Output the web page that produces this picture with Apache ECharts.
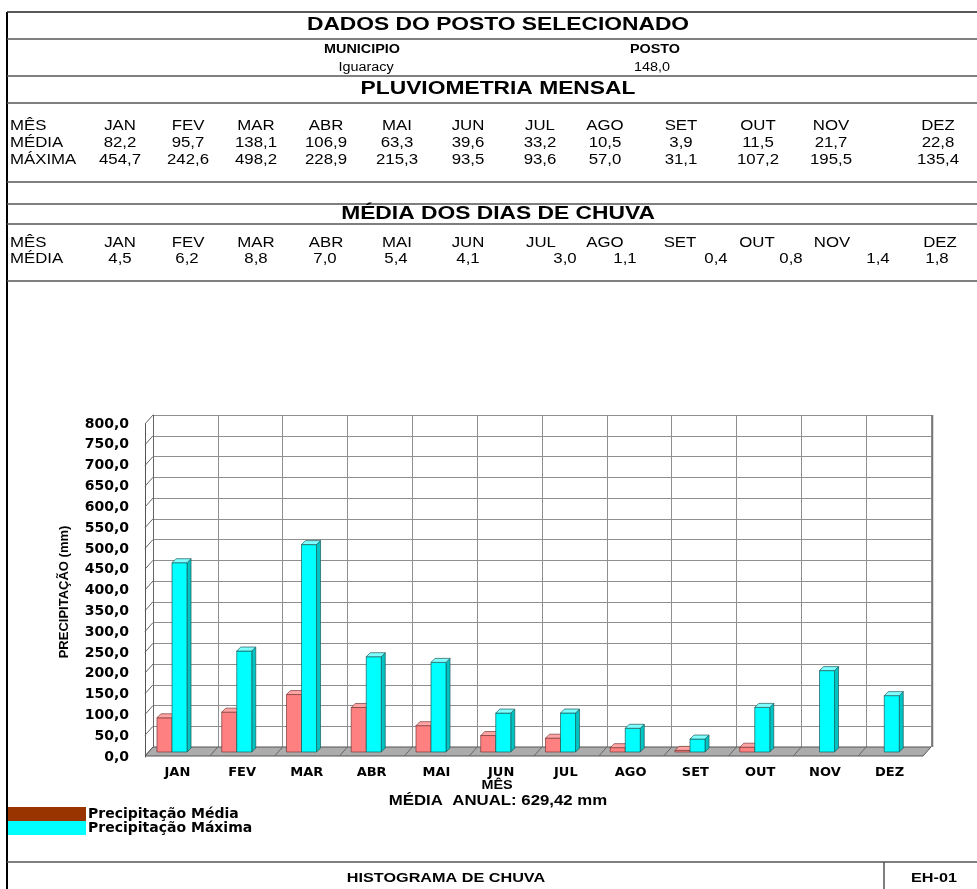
<!DOCTYPE html>
<html><head><meta charset="utf-8">
<script src="https://cdn.jsdelivr.net/npm/echarts@6/dist/echarts.min.js"></script>
<style>html,body{margin:0;padding:0;background:#fff}#c{width:977px;height:889px}</style>
</head><body><div id="c"></div>
<script>
// ---------- data ----------
const months = ['JAN','FEV','MAR','ABR','MAI','JUN','JUL','AGO','SET','OUT','NOV','DEZ'];
const mediaMensal  = [82.2, 95.7, 138.1, 106.9, 63.3, 39.6, 33.2, 10.5, 3.9, 11.5, 21.7, 22.8];
const maximaMensal = [454.7, 242.6, 498.2, 228.9, 215.3, 93.5, 93.6, 57.0, 31.1, 107.2, 195.5, 135.4];
const diasChuva    = [4.5, 6.2, 8.8, 7.0, 5.4, 4.1, 3.0, 1.1, 0.4, 0.8, 1.4, 1.8];
// values drawn in the histogram (NOV/DEZ media bars are absent in the picture)
const mediaGrafico = [82.2, 95.7, 138.1, 106.9, 63.3, 39.6, 33.2, 10.5, 3.9, 11.5, null, null];
const municipio = 'Iguaracy';
const posto = '148,0';
const mediaAnual = '629,42';
const yMin = 0, yMax = 800, yStep = 50;

// ---------- layout ----------
const colA = [120, 188, 256, 326, 397, 468, 540, 605, 681, 758, 831, 938];
const colB = [120, 188, 256, 326, 397, 468, 541, 605, 680, 757, 832, 940];
const colBv = [120, 187, 256, 325, 396, 468, 565, 625, 716, 791, 878, 937];
const SX = 1.2;
const FONT = '"Liberation Sans", Arial, sans-serif';
const fmt = v => v.toFixed(1).replace('.', ',');

const G = [];
function txt(text, x, y, size, bold, align) {
  G.push({type:'text', x:x, y:y, scaleX:SX, z:10,
    style:{text:text, font:(bold?'bold ':'')+size+'px '+FONT, fill:'#000',
      align:align||'center', verticalAlign:'middle'}});
}
function hline(y, x1, x2, color, w) {
  G.push({type:'line', z:9, shape:{x1:x1||7, y1:y, x2:x2||977, y2:y}, style:{stroke:color||'#555', lineWidth:w||1.5}});
}
// frame
G.push({type:'line', z:9, shape:{x1:7,y1:12,x2:7,y2:889}, style:{stroke:'#000', lineWidth:2}});
hline(12, 7, 977, '#222', 1.5);
[39, 76, 103, 182, 204, 224, 281, 862].forEach(y => hline(y));
G.push({type:'line', z:9, shape:{x1:884,y1:862,x2:884,y2:889}, style:{stroke:'#555', lineWidth:1.5}});

txt('DADOS DO POSTO SELECIONADO', 498, 25, 19, true);
txt('MUNICIPIO', 362, 50, 12, true);
txt('POSTO', 655, 50, 12, true);
txt(municipio, 366, 68, 12, false);
txt(posto, 652, 68, 12, false);
txt('PLUVIOMETRIA MENSAL', 498, 89, 19, true);
txt('MÊS', 10, 126, 14, false, 'left');
txt('MÉDIA', 10, 143, 14, false, 'left');
txt('MÁXIMA', 10, 160, 14, false, 'left');
months.forEach((m, i) => {
  txt(m, colA[i], 126, 14, false);
  txt(fmt(mediaMensal[i]), colA[i], 143, 14, false);
  txt(fmt(maximaMensal[i]), colA[i], 160, 14, false);
});
txt('MÉDIA DOS DIAS DE CHUVA', 498, 214, 19, true);
txt('MÊS', 10, 243, 14, false, 'left');
txt('MÉDIA', 10, 259, 14, false, 'left');
months.forEach((m, i) => {
  txt(m, colB[i], 243, 14, false);
  txt(fmt(diasChuva[i]), colBv[i], 259, 14, false);
});
txt('MÊS', 497, 786, 12, true);
txt('MÉDIA  ANUAL: ' + mediaAnual + ' mm', 498, 801, 14, true);
txt('HISTOGRAMA DE CHUVA', 446, 878, 13.5, true);
txt('EH-01', 934, 878, 13.5, true);
G.push({type:'text', x:64, y:592, rotation:Math.PI/2, z:10,
  style:{text:'PRECIPITAÇÃO (mm)', font:'bold 13px "Liberation Sans Narrow", "Liberation Sans", sans-serif', fill:'#000', align:'center', verticalAlign:'middle'}});

// ---------- 3D helpers ----------
const DX = -8, DY = 9;   // depth offset back->front
function barRender(kind) {
  const pal = kind === 0
    ? {front:'#FF8080', side:'#D86A6A', top:'#FFA3A3', stroke:'#7a3a3a'}
    : {front:'#00FFFF', side:'#00C4C4', top:'#7FFFFF', stroke:'#1d5a5a'};
  return function (params, api) {
    const v = api.value(1);
    if (v == null || isNaN(v)) return null;
    const i = api.value(0);
    const top = api.coord([i, v]);
    const base = api.coord([i, 0]);
    const band = api.size([1, 0])[0];
    const w = band * 0.232;
    const x0 = top[0] + (kind === 0 ? -band * 0.315 : -band * 0.083);
    const x1 = x0 + w;
    const lift = 5, d = 4;
    const yt = top[1] - lift, yb = base[1] - lift;
    const st = {stroke:pal.stroke, lineWidth:0.7};
    return {type:'group', children:[
      {type:'polygon', shape:{points:[[x1,yb],[x1,yt],[x1+d,yt-d],[x1+d,yb-d]]}, style:Object.assign({fill:pal.side}, st)},
      {type:'rect', shape:{x:x0, y:yt, width:w, height:yb-yt}, style:Object.assign({fill:pal.front}, st)},
      {type:'polygon', shape:{points:[[x0,yt],[x1,yt],[x1+d,yt-d],[x0+d,yt-d]]}, style:Object.assign({fill:pal.top}, st)}
    ]};
  };
}
const yTicks = [];
for (let v = yMin; v <= yMax; v += yStep) yTicks.push([0, v]);

const option = {
  animation: false,
  backgroundColor: '#fff',
  graphic: G,
  legend: {
    orient: 'vertical', left: 8, top: 807, padding: 0, itemGap: 0,
    itemWidth: 78, itemHeight: 14, icon: 'rect',
    textStyle: {fontFamily:'"DejaVu Sans", sans-serif', fontWeight:'bold', fontSize:14, color:'#000', padding:[2,0,0,-3]},
    itemStyle: {borderWidth: 0},
    data: [
      {name:'Precipitação Média', itemStyle:{color:'#993300', borderWidth:0}},
      {name:'Precipitação Máxima', itemStyle:{color:'#00FFFF', borderWidth:0}}
    ]
  },
  grid: [
    {left:145, top:424, width:777, height:333},
    {left:153, top:415, width:778, height:332}
  ],
  xAxis: [
    {gridIndex:0, type:'category', data:months, axisLine:{show:false}, axisTick:{show:false},
     axisLabel:{margin:9, color:'#000', fontFamily:'"DejaVu Sans", sans-serif', fontWeight:'bold', fontSize:13, interval:0},
     splitLine:{show:false}},
    {gridIndex:1, type:'category', data:months, axisLine:{show:false}, axisTick:{show:false},
     axisLabel:{show:false}, splitLine:{show:true, interval:0, lineStyle:{color:'#8f8f8f', width:1}}}
  ],
  yAxis: [
    {gridIndex:0, type:'value', min:yMin, max:yMax, interval:yStep,
     axisLine:{show:true, lineStyle:{color:'#555', width:1}}, axisTick:{show:false},
     axisLabel:{margin:16, color:'#000', fontFamily:'"DejaVu Sans", sans-serif', fontWeight:'bold', fontSize:14,
       formatter: v => fmt(v)},
     splitLine:{show:false}},
    {gridIndex:1, type:'value', min:yMin, max:yMax, interval:yStep,
     axisLine:{show:true, lineStyle:{color:'#666', width:1}}, axisTick:{show:false},
     axisLabel:{show:false}, splitLine:{show:true, lineStyle:{color:'#8f8f8f', width:1}}}
  ],
  series: [
    { // side wall diagonals
      type:'custom', name:'_wall', xAxisIndex:1, yAxisIndex:1, silent:true, z:1,
      encode:{x:0, y:1}, data:yTicks,
      renderItem: function (p, api) {
        const c = api.coord([0, api.value(1)]);
        const band = api.size([1, 0])[0];
        const xl = c[0] - band / 2;
        return {type:'line', shape:{x1:xl, y1:c[1], x2:xl+DX, y2:c[1]+DY}, style:{stroke:'#666', lineWidth:1}};
      }
    },
    { // floor
      type:'custom', name:'_floor', xAxisIndex:1, yAxisIndex:1, silent:true, z:1,
      encode:{x:0, y:1}, data:[[0, 0]],
      renderItem: function (p, api) {
        const band = api.size([1, 0])[0];
        const c0 = api.coord([0, 0]);
        const left = c0[0] - band / 2, right = left + band * months.length, y = c0[1];
        const ch = [{type:'polygon', shape:{points:[[left,y],[right,y],[right+DX,y+DY],[left+DX,y+DY]]},
          style:{fill:'#acacac', stroke:'#555', lineWidth:1}}];
        for (let k = 1; k < months.length; k++) {
          const x = left + band * k;
          ch.push({type:'line', shape:{x1:x, y1:y, x2:x+DX, y2:y+DY}, style:{stroke:'#666', lineWidth:1}});
        }
        ch.push({type:'line', shape:{x1:right+1.5, y1:api.coord([0, yMax])[1], x2:right+1.5, y2:y}, style:{stroke:'#777', lineWidth:1.5}});
        return {type:'group', children:ch};
      }
    },
    {
      type:'custom', name:'Precipitação Média', xAxisIndex:0, yAxisIndex:0, z:3,
      itemStyle:{color:'#FF8080'}, encode:{x:0, y:1},
      data: mediaGrafico.map((v, i) => [i, v]),
      renderItem: barRender(0)
    },
    {
      type:'custom', name:'Precipitação Máxima', xAxisIndex:0, yAxisIndex:0, z:4,
      itemStyle:{color:'#00FFFF'}, encode:{x:0, y:1},
      data: maximaMensal.map((v, i) => [i, v]),
      renderItem: barRender(1)
    }
  ]
};
const chart = echarts.init(document.getElementById('c'));
chart.setOption(option);
</script></body></html>
